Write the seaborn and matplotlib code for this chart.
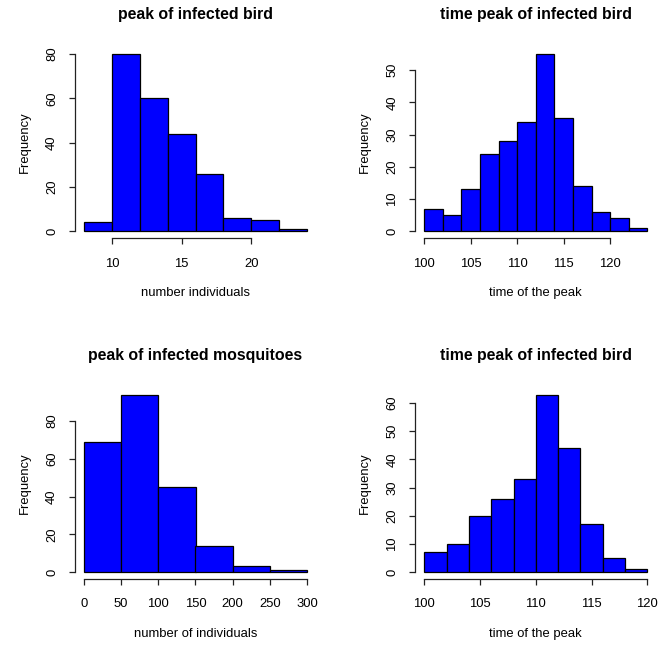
import numpy as np
import pandas as pd
import matplotlib
matplotlib.use("Agg")
import matplotlib.pyplot as plt
import seaborn as sns

# ---- data (bin edges and counts) ----
edges_bird = [8, 10, 12, 14, 16, 18, 20, 22, 24]
counts_bird = [4, 80, 60, 44, 26, 6, 5, 1]

edges_time1 = [100, 102, 104, 106, 108, 110, 112, 114, 116, 118, 120, 122, 124]
counts_time1 = [7, 5, 13, 24, 28, 34, 55, 35, 14, 6, 4, 1]

edges_mosq = [0, 50, 100, 150, 200, 250, 300]
counts_mosq = [69, 94, 45, 14, 3, 1]

edges_time2 = [100, 102, 104, 106, 108, 110, 112, 114, 116, 118, 120]
counts_time2 = [7, 10, 20, 26, 33, 63, 44, 17, 5, 1]

titles = ["peak of infected bird", "time peak of infected bird",
          "peak of infected mosquitoes", "time peak of infected bird"]
xlabels = ["number individuals", "time of the peak",
           "number of individuals", "time of the peak"]
xticks_list = [[10, 15, 20], [100, 105, 110, 115, 120],
               [0, 50, 100, 150, 200, 250, 300], [100, 105, 110, 115, 120]]
yticks_list = [[0, 20, 40, 60, 80], [0, 10, 20, 30, 40, 50],
               [0, 20, 40, 60, 80], [0, 10, 20, 30, 40, 50, 60]]

sns.set_style("white")
plt.rcParams['font.family'] = ['Liberation Sans', 'DejaVu Sans']
plt.rcParams['text.color'] = 'black'
plt.rcParams['axes.labelcolor'] = 'black'
plt.rcParams['xtick.color'] = 'black'
plt.rcParams['ytick.color'] = 'black'

W, H = 659, 647
fig = plt.figure(figsize=(W / 100, H / 100), dpi=100)

# plot regions in pixels (left, top, right, bottom)
regions = [(75.1, 46.9, 315.9, 238.4), (415.4, 46.9, 656.2, 238.4),
           (75.1, 387.5, 315.9, 579.1), (415.4, 387.5, 656.2, 579.1)]

panels = [(edges_bird, counts_bird), (edges_time1, counts_time1),
          (edges_mosq, counts_mosq), (edges_time2, counts_time2)]

FS = 9.4
for i, ((edges, counts), (l, t, r, b)) in enumerate(zip(panels, regions)):
    ax = fig.add_axes([l / W, 1 - b / H, (r - l) / W, (b - t) / H])
    centers = [(edges[k] + edges[k + 1]) / 2 for k in range(len(counts))]
    df = pd.DataFrame({"x": centers, "w": counts})
    sns.histplot(data=df, x="x", weights="w", bins=list(edges), ax=ax,
                 color="#0000ff", alpha=1.0, edgecolor="black", linewidth=0.9)
    xr = edges[-1] - edges[0]
    ax.set_xlim(edges[0] - 0.04 * xr, edges[-1] + 0.04 * xr)
    ymax = max(counts)
    ax.set_ylim(-0.04 * ymax, ymax * 1.04)
    xt = xticks_list[i]
    yt = yticks_list[i]
    ax.set_xticks(xt)
    ax.set_yticks(yt)
    ax.set_xticklabels([str(v) for v in xt])
    ax.set_yticklabels([str(v) for v in yt], rotation=90, va="center")
    for s in ["top", "right"]:
        ax.spines[s].set_visible(False)
    for s in ["left", "bottom"]:
        ax.spines[s].set_visible(True)
        ax.spines[s].set_color("#222222")
        ax.spines[s].set_linewidth(0.9)
    ax.spines["bottom"].set_bounds(xt[0], xt[-1])
    ax.spines["left"].set_bounds(yt[0], yt[-1])
    ax.tick_params(axis="both", which="major", length=4.3, width=0.9,
                   color="#222222", labelsize=FS, direction="out",
                   bottom=True, left=True, labelcolor="black")
    ax.tick_params(axis="x", pad=9.5)
    ax.tick_params(axis="y", pad=8)
    ax.set_xlabel(xlabels[i], fontsize=FS, labelpad=12.5)
    ax.set_ylabel("Frequency", fontsize=FS, labelpad=11)
    ax.set_title(titles[i], fontsize=11.4, fontweight="bold", pad=20, color="black")
    ax.grid(False)

fig.savefig("out.png", dpi=100, facecolor="white")
